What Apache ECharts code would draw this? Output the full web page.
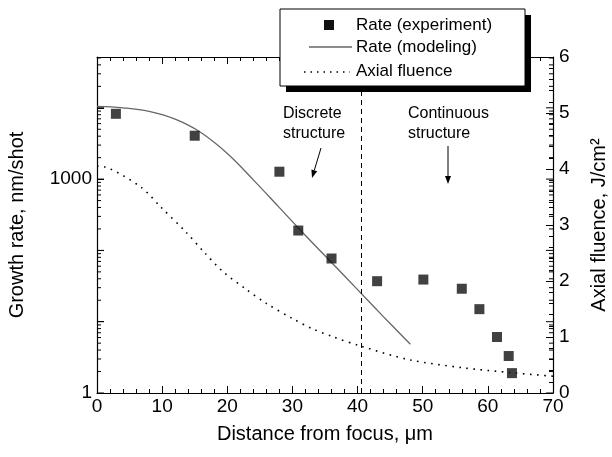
<!DOCTYPE html>
<html>
<head>
<meta charset="utf-8">
<script src="https://cdn.jsdelivr.net/npm/echarts@6/dist/echarts.min.js"></script>
<style>
  html, body { margin: 0; padding: 0; background: #fff; }
  #chart { width: 612px; height: 457px; }
</style>
</head>
<body>
<div id="chart"></div>
<script>
// measured points (distance in um, growth rate in nm/shot)
const expDistance = [2.9, 15.0, 28.0, 30.9, 36.0, 43.0, 50.1, 56.0, 58.7, 61.4, 63.2, 63.7];
const expRate = [8240, 4060, 1270, 190, 77, 37, 39, 29, 15, 6.1, 3.3, 1.9];

// model curve
const modelDistance = [0, 4, 8, 12, 16, 20, 24, 28, 32, 36, 40, 44, 48.1];
const modelRate = [10470, 10000, 8910, 6920, 4470, 2290, 977, 398, 162, 67.6, 28.2, 11.7, 4.84];

// axial fluence, J/cm2 (right axis)
const fluenceDistance = [0, 1.1, 6.7, 9.8, 13.6, 16.4, 19.4, 22.8, 26, 30, 33, 36.3, 40.4, 48.1, 56.2, 63.9, 70];
const fluence = [4.05, 4.04, 3.68, 3.32, 2.88, 2.52, 2.16, 1.86, 1.6, 1.33, 1.15, 1.0, 0.84, 0.59, 0.45, 0.36, 0.3];

const boundaryDistance = 40.5;
const rateLabels = [1, 1000];
const logDecades = [1, 10, 100, 1000, 10000];
const logMantissas = [2, 3, 4, 5, 6, 7, 8, 9];

const FONT = "'Liberation Sans', Arial, Helvetica, sans-serif";

// log minor ticks (drawn by hand, echarts has no 2..9 minor ticks for log axes)
const logTickData = [];
logDecades.forEach((d) => {
  logTickData.push([d, 1]);
  logMantissas.forEach((m) => {
    if (d * m < 51000) logTickData.push([d * m, 0]);
  });
});

const toPairs = (xs, ys) => xs.map((x, i) => [x, ys[i]]);

function arrow(x1, y1, x2, y2) {
  const a = Math.atan2(y2 - y1, x2 - x1);
  const len = 8, w = 3;
  const bx = x2 - len * Math.cos(a), by = y2 - len * Math.sin(a);
  return [
    { type: 'line', z: 50, shape: { x1, y1, x2: bx, y2: by }, style: { stroke: '#000', lineWidth: 1 } },
    {
      type: 'polygon', z: 50,
      shape: { points: [[x2, y2], [bx - w * Math.sin(a), by + w * Math.cos(a)], [bx + w * Math.sin(a), by - w * Math.cos(a)]] },
      style: { fill: '#000' }
    }
  ];
}

const tickCommon = {
  axisLine: { onZero: false, lineStyle: { color: '#000', width: 1.2 } },
  splitLine: { show: false },
};

const chart = echarts.init(document.getElementById('chart'));
const option = {
  animation: false,
  textStyle: { fontFamily: FONT },
  grid: { left: 97, right: 59, top: 57, bottom: 64, outerBoundsMode: 'none', containLabel: false },
  xAxis: [
    Object.assign({
      type: 'value', min: 0, max: 70, interval: 10, position: 'bottom',
      axisTick: { inside: true, length: 7, lineStyle: { color: '#000' } },
      minorTick: { show: true, splitNumber: 5, length: 4, lineStyle: { color: '#000' } },
      axisLabel: { fontSize: 19, color: '#000', margin: 4, fontFamily: FONT },
      name: 'Distance from focus, μm', nameLocation: 'middle', nameGap: 31,
      nameTextStyle: { fontSize: 20, color: '#000', fontFamily: FONT },
    }, tickCommon),
    Object.assign({
      type: 'value', min: 0, max: 70, interval: 10, position: 'top',
      axisTick: { inside: true, length: 7, lineStyle: { color: '#000' } },
      minorTick: { show: true, splitNumber: 5, length: 4, lineStyle: { color: '#000' } },
      axisLabel: { show: false },
    }, tickCommon),
  ],
  yAxis: [
    Object.assign({
      type: 'log', logBase: 10, min: 1, max: 51600, position: 'left',
      axisTick: { inside: true, length: 7, lineStyle: { color: '#000' } },
      axisLabel: {
        fontSize: 19, color: '#000', margin: 5, fontFamily: FONT,
        formatter: (v) => (rateLabels.indexOf(Math.round(v)) >= 0 ? String(Math.round(v)) : ''),
      },
      name: 'Growth rate, nm/shot', nameLocation: 'middle', nameRotate: 90, nameGap: 70,
      nameTextStyle: { fontSize: 20, color: '#000', fontFamily: FONT },
    }, tickCommon),
    Object.assign({
      type: 'value', min: 0, max: 6, interval: 1, position: 'right',
      axisTick: { inside: true, length: 7, lineStyle: { color: '#000' } },
      minorTick: { show: true, splitNumber: 5, length: 4, lineStyle: { color: '#000' } },
      axisLabel: { inside: false, align: 'left', fontSize: 19, color: '#000', margin: 6, fontFamily: FONT },
      name: 'Axial fluence, J/cm²', nameLocation: 'middle', nameRotate: 90, nameGap: 36,
      nameTextStyle: { fontSize: 20, color: '#000', fontFamily: FONT },
    }, tickCommon),
  ],
  series: [
    {
      name: 'Rate (experiment)', type: 'scatter', xAxisIndex: 0, yAxisIndex: 0,
      symbol: 'rect', symbolSize: 10, itemStyle: { color: '#111' },
      data: toPairs(expDistance, expRate), z: 5,
      markLine: {
        silent: true, symbol: ['none', 'none'], label: { show: false },
        lineStyle: { color: '#000', type: [5, 4], width: 1 },
        data: [{ xAxis: boundaryDistance }],
      },
    },
    {
      name: 'Rate (modeling)', type: 'line', xAxisIndex: 0, yAxisIndex: 0,
      showSymbol: false, smooth: 0.4, lineStyle: { color: '#666', width: 1.3 },
      data: toPairs(modelDistance, modelRate),
    },
    {
      name: 'Axial fluence', type: 'line', xAxisIndex: 0, yAxisIndex: 1,
      showSymbol: false, smooth: 0.3, lineStyle: { color: '#000', width: 1.6, type: [1.6, 5.5] },
      data: toPairs(fluenceDistance, fluence),
    },
    {
      type: 'custom', xAxisIndex: 0, yAxisIndex: 0, silent: true, clip: false,
      data: logTickData.map((t) => [0, t[0], t[1]]),
      renderItem: (params, api) => {
        const v = api.value(1);
        const len = api.value(2) ? 7 : 4;
        const pl = api.coord([0, v]);
        const pr = api.coord([70, v]);
        return {
          type: 'group',
          children: [
            { type: 'line', shape: { x1: pl[0], y1: pl[1], x2: pl[0] + len, y2: pl[1] }, style: { stroke: '#000', lineWidth: 1 } },
            { type: 'line', shape: { x1: pr[0], y1: pr[1], x2: pr[0] - len, y2: pr[1] }, style: { stroke: '#000', lineWidth: 1 } },
          ],
        };
      },
    },
  ],
  graphic: [
    // legend box with solid drop shadow
    { type: 'rect', z: 100, shape: { x: 286, y: 15, width: 245, height: 77 }, style: { fill: '#000' } },
    { type: 'rect', z: 101, shape: { x: 280, y: 9, width: 245, height: 77 }, style: { fill: '#fff', stroke: '#000', lineWidth: 1 } },
    { type: 'rect', z: 102, shape: { x: 324, y: 20, width: 10, height: 10 }, style: { fill: '#111' } },
    { type: 'line', z: 102, shape: { x1: 309, y1: 47, x2: 352, y2: 47 }, style: { stroke: '#666', lineWidth: 1.3 } },
    { type: 'line', z: 102, shape: { x1: 304, y1: 72, x2: 350, y2: 72 }, style: { stroke: '#000', lineWidth: 1.5, lineDash: [1.5, 5] } },
    { type: 'text', z: 102, style: { x: 356, y: 25, text: 'Rate (experiment)', font: '17px ' + FONT, fill: '#000', verticalAlign: 'middle' } },
    { type: 'text', z: 102, style: { x: 356, y: 47, text: 'Rate (modeling)', font: '17px ' + FONT, fill: '#000', verticalAlign: 'middle' } },
    { type: 'text', z: 102, style: { x: 356, y: 71, text: 'Axial fluence', font: '17px ' + FONT, fill: '#000', verticalAlign: 'middle' } },
    // annotations
    { type: 'text', z: 50, style: { x: 283, y: 104, text: 'Discrete\nstructure', font: '16px ' + FONT, fill: '#000', lineHeight: 20 } },
    { type: 'text', z: 50, style: { x: 408, y: 104, text: 'Continuous\nstructure', font: '16px ' + FONT, fill: '#000', lineHeight: 20 } },
  ].concat(arrow(321, 148, 312, 178), arrow(448, 146, 448, 184)),
};
chart.setOption(option);
</script>
</body>
</html>
